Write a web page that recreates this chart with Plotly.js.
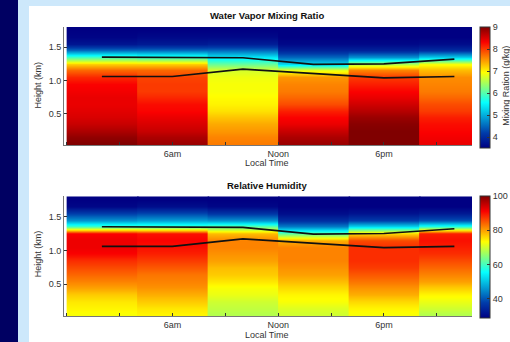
<!DOCTYPE html>
<html><head><meta charset="utf-8">
<script src="https://cdn.plot.ly/plotly-3.0.1.min.js"></script>
<style>
html,body{margin:0;padding:0;width:510px;height:342px;overflow:hidden;background:#cde8fb;}
#nav{position:absolute;left:0;top:0;width:18px;height:342px;background:#000062;}
#chart{position:absolute;left:29px;top:6px;width:481px;height:336px;background:#fff;}
</style></head><body><div id="nav"></div><div id="chart"></div>
<script>
// ---- data ----
const hours = [2, 6, 10, 14, 18, 22];          // block centres (local time, h)
const blockWidth = 4;                          // hours per block
const heights = [0.05,0.15,0.25,0.35,0.45,0.55,0.65,0.75,0.85,0.95,1.05,1.15,1.25,1.35,1.45,1.55,1.65,1.75];

// Water vapor mixing ratio (g/kg), one profile per block, bottom -> top
const mr_00 = [9.0,8.9,8.75,8.6,8.5,8.45,8.4,8.4,8.35,8.3,8.1,7.75,7.2,5.9,4.5,3.75,3.55,3.5];
const mr_04 = [8.85,8.75,8.6,8.5,8.4,8.3,8.25,8.1,8.0,8.0,7.95,7.75,7.2,5.8,4.5,3.8,3.6,3.5];
const mr_08 = [7.65,7.6,7.5,7.4,7.25,7.1,7.0,6.95,6.9,6.9,6.85,6.7,6.1,5.4,4.5,3.85,3.6,3.5];
const mr_12 = [8.85,8.75,8.6,8.4,8.3,8.15,7.9,7.75,7.65,7.6,7.5,6.8,5.3,4.5,3.9,3.6,3.5,3.5];
const mr_16 = [9.0,9.0,9.0,8.95,8.85,8.7,8.55,8.4,8.3,8.15,8.0,7.6,6.5,4.8,3.9,3.6,3.5,3.5];
const mr_20 = [8.4,8.35,8.3,8.25,8.15,8.0,7.9,7.75,7.65,7.6,7.55,7.3,6.9,5.2,4.0,3.65,3.5,3.5];

// Relative humidity (%), bottom -> top
const rh_00 = [73,74,75,77,80,82,84,86,88,91,92,92,91,60,46,38,30,29];
const rh_04 = [74,75,77,79,81,82,83,85,87,89,90,91,90,60,47,39,31,29];
const rh_08 = [68,69,70,72,73,75,77,78,80,81,82,82,78,62,46,37,30,29];
const rh_12 = [70,71,73,74,76,78,80,81,82,82,82,79,62,44,36,31,29,29];
const rh_16 = [73,74,76,79,81,83,85,87,88,88,88,86,76,52,38,32,29,29];
const rh_20 = [68,70,72,74,77,80,82,84,86,88,89,90,89,58,40,33,29,29];

// Boundary lines (km)
const upperLine = [1.35,1.35,1.34,1.24,1.25,1.32];
const lowerLine = [1.06,1.06,1.17,1.11,1.04,1.06];

// Ticks / labels
const xTickVals = [0,3,6,9,12,15,18,21];
const xTickText = ['','','6am','','Noon','','6pm',''];
const yTickVals = [0.5,1.0,1.5];
const yTickText = ['0.5','1.0','1.5'];
const mrTicks = [4,5,6,7,8,9];
const rhTicks = [40,60,80,100];
const mrRange = [3.5, 9];
const rhRange = [29, 100];

const mrCols = [mr_00, mr_04, mr_08, mr_12, mr_16, mr_20];
const rhCols = [rh_00, rh_04, rh_08, rh_12, rh_16, rh_20];

// ---- build ----
const FONT = 'Liberation Sans, Arial, sans-serif';
const SEAM = 0.1; // small overlap so neighbouring blocks leave no hairline gap
const traces = [];
function addBlocks(cols, xa, ya, ca){
  cols.forEach((col, i) => {
    const t = hours[i];
    traces.push({
      type:'heatmap', xaxis:xa, yaxis:ya, coloraxis:ca,
      x:[t - blockWidth/2, t, t + blockWidth/2 + SEAM],
      y:heights,
      z:col.map(v => [v, v]),
      zsmooth:'best', hoverinfo:'skip'
    });
  });
}
addBlocks(mrCols, 'x', 'y', 'coloraxis');
addBlocks(rhCols, 'x2', 'y2', 'coloraxis2');
[['x','y'],['x2','y2']].forEach(([xa,ya]) => {
  [upperLine, lowerLine].forEach(l => traces.push({
    type:'scatter', mode:'lines', x:hours, y:l, xaxis:xa, yaxis:ya,
    line:{color:'#111', width:1.7}, showlegend:false, hoverinfo:'skip'
  }));
});

const tickFont = {family:FONT, size:9, color:'#333'};
function xAxis(anchor){
  return {anchor:anchor, domain:[0,1], range:[-0.15,23], tickvals:xTickVals, ticktext:xTickText,
    ticks:'inside', ticklen:3, tickcolor:'#333', showline:true, linecolor:'#777', linewidth:1,
    showgrid:false, zeroline:false, tickfont:tickFont, fixedrange:true};
}
function yAxis(anchor, dom){
  return {anchor:anchor, domain:dom, range:[0.03,1.8], tickvals:yTickVals, ticktext:yTickText,
    ticks:'inside', ticklen:3, tickcolor:'#333', showline:true, linecolor:'#777', linewidth:1,
    showgrid:false, zeroline:false, tickfont:tickFont, fixedrange:true};
}
function cbar(y, len, ticks){
  return {xref:'container', x:451/481, xanchor:'left', xpad:0, thickness:10, thicknessmode:'pixels',
    yref:'paper', y:y, yanchor:'top', ypad:0, len:len, lenmode:'fraction', tickvals:ticks,
    ticks:'inside', ticklen:3, tickcolor:'#333', outlinewidth:1, outlinecolor:'#333',
    tickfont:tickFont};
}
const ann = (text, x, y, opts) => Object.assign({text:text, x:x, y:y, xref:'paper', yref:'paper',
  showarrow:false, xanchor:'center', yanchor:'middle', font:{family:FONT, size:9, color:'#333'}}, opts||{});

const layout = {
  width:481, height:336,
  margin:{l:34.5, r:38, t:21, b:25.7, pad:0},
  paper_bgcolor:'#fff', plot_bgcolor:'#fff', showlegend:false,
  xaxis:xAxis('y'), yaxis:yAxis('x',[0.5904,1]),
  xaxis2:xAxis('y2'), yaxis2:yAxis('x2',[0,0.4141]),
  coloraxis:{cmin:mrRange[0], cmax:mrRange[1], colorscale:'Jet', colorbar:cbar(1, 0.418, mrTicks)},
  coloraxis2:{cmin:rhRange[0], cmax:rhRange[1], colorscale:'Jet', colorbar:cbar(0.4158, 0.4217, rhTicks)},
  annotations:[
    ann('<b>Water Vapor Mixing Ratio</b>', 0.498, 1.0415, {font:{family:FONT,size:9.5,color:'#111'}}),
    ann('<b>Relative Humidity</b>', 0.498, 0.4504, {font:{family:FONT,size:9.5,color:'#111'}}),
    ann('Local Time', 0.498, 0.5299),
    ann('Local Time', 0.498, -0.0646),
    ann('Height (km)', -0.0649, 0.7995, {textangle:-90}),
    ann('Height (km)', -0.0649, 0.2153, {textangle:-90}),
    ann('Mixing Ration (g/kg)', 1.083, 0.796, {textangle:-90})
  ]
};
Plotly.newPlot('chart', traces, layout, {staticPlot:true, displayModeBar:false});
</script></body></html>
